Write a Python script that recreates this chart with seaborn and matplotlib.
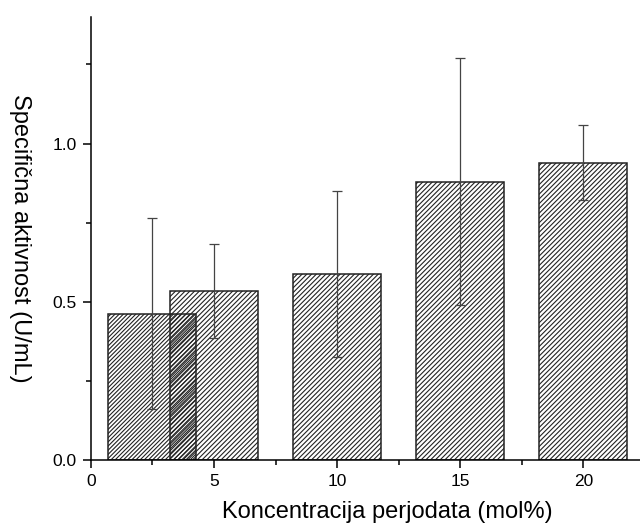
import matplotlib
matplotlib.use("Agg")
import matplotlib.pyplot as plt
import seaborn as sns
import pandas as pd
from matplotlib.ticker import MultipleLocator, FormatStrFormatter

# Data
concentrations = [2.5, 5, 10, 15, 20]
activity = [0.462, 0.535, 0.589, 0.880, 0.940]
errors = [0.302, 0.149, 0.262, 0.390, 0.119]
hatches = ["////////", "///////", "///////", "///////", "///////"]

sns.set_theme(style="ticks")
plt.rcParams["font.family"] = ["Liberation Sans", "DejaVu Sans"]
plt.rcParams["hatch.color"] = "#222222"
plt.rcParams["hatch.linewidth"] = 0.8
plt.rcParams["text.color"] = "black"
plt.rcParams["axes.labelcolor"] = "black"

df = pd.DataFrame({"x": concentrations, "y": activity})

fig = plt.figure(figsize=(6.4, 5.3), dpi=100)
ax = fig.add_axes([0.142, 0.132, 0.858, 0.836])

sns.barplot(data=df, x="x", y="y", native_scale=True, width=1.43,
            color="white", edgecolor="#222222", linewidth=1.1,
            errorbar=None, ax=ax)
for p, h in zip(ax.patches, hatches):
    p.set_facecolor("none")
    p.set_hatch(h)

ax.errorbar(concentrations, activity, yerr=errors, fmt="none",
            ecolor="#444444", elinewidth=0.9, capsize=3.6, capthick=0.9,
            zorder=5)

ax.set_xlim(0, 22.3)
ax.set_ylim(0, 1.40)
ax.xaxis.set_major_locator(MultipleLocator(5))
ax.xaxis.set_minor_locator(MultipleLocator(2.5))
ax.yaxis.set_major_locator(MultipleLocator(0.5))
ax.yaxis.set_minor_locator(MultipleLocator(0.25))
ax.yaxis.set_major_formatter(FormatStrFormatter("%.1f"))
ax.xaxis.set_major_formatter(FormatStrFormatter("%d"))

for s in ["top", "right"]:
    ax.spines[s].set_visible(False)
for s in ["left", "bottom"]:
    ax.spines[s].set_linewidth(1.1)
    ax.spines[s].set_color("black")

ax.tick_params(axis="both", which="major", direction="out", length=6,
               width=1.1, labelsize=12.5, colors="black", pad=4)
ax.tick_params(axis="both", which="minor", direction="out", length=3.5,
               width=1.1, colors="black")

ax.set_xlabel("Koncentracija perjodata (mol%)", fontsize=17, color="black")
ax.xaxis.set_label_coords(0.539, -0.093)
ax.set_ylabel("Specifična aktivnost (U/mL)", fontsize=17, rotation=270,
              color="black")
ax.yaxis.set_label_coords(-0.15, 0.5)

fig.savefig("out.png", dpi=100)
